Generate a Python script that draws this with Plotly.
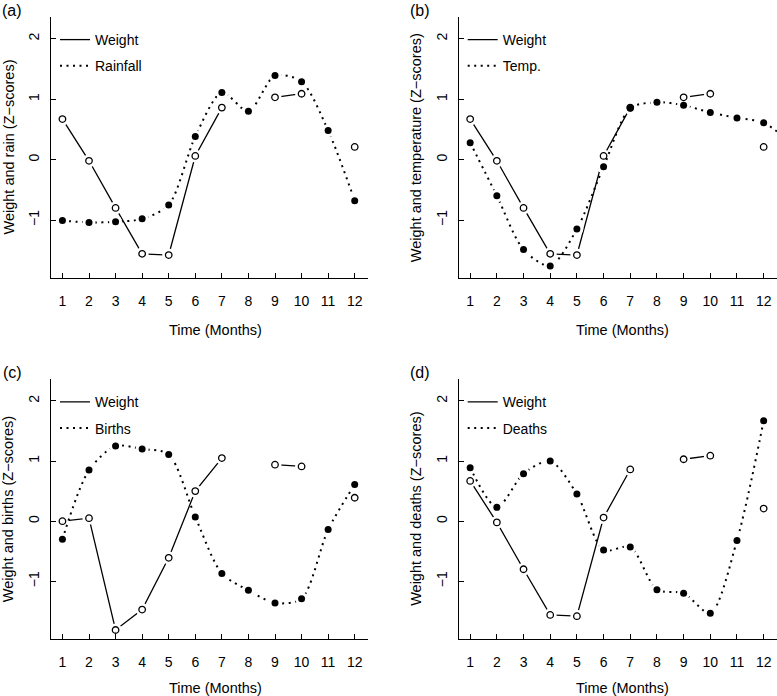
import plotly.graph_objects as go

W, H = 777, 696

# ---------------- data ----------------
months = [1, 2, 3, 4, 5, 6, 7, 8, 9, 10, 11, 12]
months_ext = [1, 2, 3, 4, 5, 6, 7, 8, 9, 10, 11, 12, 13]
x_ticks = [1, 2, 3, 4, 5, 6, 7, 8, 9, 10, 11, 12]
y_ticks = [-1, 0, 1, 2]

weight_abd = [0.67, -0.02, -0.80, -1.56, -1.58, 0.06, 0.86, None, 1.03, 1.09, None, 0.21]
weight_c = [0.00, 0.05, -1.81, -1.47, -0.61, 0.50, 1.05, None, 0.94, 0.91, None, 0.39]
rainfall = [-1.01, -1.04, -1.03, -0.98, -0.75, 0.38, 1.11, 0.80, 1.39, 1.29, 0.48, -0.68]
temperature = [0.28, -0.60, -1.49, -1.76, -1.15, -0.12, 0.85, 0.95, 0.90, 0.78, 0.69, 0.61, 0.28]
births = [-0.30, 0.85, 1.25, 1.20, 1.11, 0.07, -0.87, -1.15, -1.36, -1.29, -0.14, 0.61]
deaths = [0.89, 0.23, 0.79, 1.00, 0.45, -0.48, -0.43, -1.14, -1.20, -1.53, -0.32, 1.67]

panels = [
    dict(tag="(a)", ylab="Weight and rain (Z\u2212scores)", wx=months, w=weight_abd,
         ox=months, o=rainfall, oname="Rainfall"),
    dict(tag="(b)", ylab="Weight and temperature (Z\u2212scores)", wx=months, w=weight_abd,
         ox=months_ext, o=temperature, oname="Temp."),
    dict(tag="(c)", ylab="Weight and births (Z\u2212scores)", wx=months, w=weight_c,
         ox=months, o=births, oname="Births"),
    dict(tag="(d)", ylab="Weight and deaths (Z\u2212scores)", wx=months, w=weight_abd,
         ox=months, o=deaths, oname="Deaths"),
]

# ---------------- layout geometry (pixels) ----------------
col_x = [(51, 368), (458.7, 777)]
row_y = [(17, 278), (379.3, 639)]
xtitle_off = [52, 48.5]
FONT = "Liberation Sans, Arial, Helvetica, sans-serif"


def px(x):
    return x / W


def py(y):
    return 1 - y / H


fig = go.Figure()
annotations = []
layout = {}

for i, p in enumerate(panels):
    r, c = divmod(i, 2)
    n = "" if i == 0 else str(i + 1)
    xa, ya = "x" + n, "y" + n
    lg = "legend" + n
    x0, x1 = col_x[c]
    y0, y1 = row_y[r]

    # weight line
    fig.add_trace(go.Scatter(x=p["wx"], y=p["w"], xaxis=xa, yaxis=ya, mode="lines",
                             line=dict(color="black", width=1.3), name="Weight",
                             legend=lg, legendgroup="w" + n, connectgaps=False))
    # gaps around weight points (type="b" look)
    fig.add_trace(go.Scatter(x=p["wx"], y=p["w"], xaxis=xa, yaxis=ya, mode="markers",
                             marker=dict(color="white", size=13, line=dict(width=0)),
                             showlegend=False, hoverinfo="skip"))
    # other series line
    fig.add_trace(go.Scatter(x=p["ox"], y=p["o"], xaxis=xa, yaxis=ya, mode="lines",
                             line=dict(color="black", width=2, dash="2px,4.5px",
                                       shape="spline", smoothing=0.8),
                             name=p["oname"], legend=lg, legendgroup="o" + n))
    fig.add_trace(go.Scatter(x=p["ox"], y=p["o"], xaxis=xa, yaxis=ya, mode="markers",
                             marker=dict(color="white", size=13, line=dict(width=0)),
                             showlegend=False, hoverinfo="skip"))
    # markers
    fig.add_trace(go.Scatter(x=p["wx"], y=p["w"], xaxis=xa, yaxis=ya, mode="markers",
                             marker=dict(color="white", size=6.5,
                                         line=dict(color="black", width=1.3)),
                             showlegend=False, name="Weight"))
    fig.add_trace(go.Scatter(x=p["ox"], y=p["o"], xaxis=xa, yaxis=ya, mode="markers",
                             marker=dict(color="black", size=7, line=dict(width=0)),
                             showlegend=False, name=p["oname"]))

    axis_common = dict(showgrid=False, zeroline=False, showline=True, linecolor="black",
                       linewidth=1, ticks="inside", ticklen=5, tickwidth=1,
                       tickcolor="black", tickfont=dict(family=FONT, size=14, color="black"),
                       fixedrange=True, automargin=False, mirror=False)
    layout["xaxis" + n] = dict(axis_common, domain=[px(x0), px(x1)], range=[0.57, 12.5],
                               tickmode="array", tickvals=x_ticks, anchor=ya,
                               ticklabelstandoff=10)
    layout["yaxis" + n] = dict(axis_common, domain=[py(y1), py(y0)], range=[-1.96, 2.36],
                               tickmode="array", tickvals=y_ticks, anchor=xa,
                               tickangle=-90, ticklabelstandoff=5)

    layout[lg] = dict(x=px(x0 + 4), y=py(y0 + 7), xanchor="left", yanchor="top",
                      bgcolor="rgba(0,0,0,0)", font=dict(family=FONT, size=14, color="black"),
                      tracegroupgap=5, itemwidth=30)

    # panel tag
    annotations.append(dict(text=p["tag"], x=px(x0 - 39), y=py(y0 - 7), xref="paper",
                            yref="paper", showarrow=False, xanchor="center", yanchor="middle",
                            font=dict(family=FONT, size=16, color="black")))
    # y title
    annotations.append(dict(text=p["ylab"], x=px(x0 - 43), y=py((y0 + y1) / 2),
                            xref="paper", yref="paper", showarrow=False, textangle=-90,
                            xanchor="center", yanchor="middle",
                            font=dict(family=FONT, size=14.5, color="black")))
    # x title
    annotations.append(dict(text="Time (Months)", x=px(x0 + 164), y=py(y1 + xtitle_off[r]),
                            xref="paper", yref="paper", showarrow=False,
                            xanchor="center", yanchor="middle",
                            font=dict(family=FONT, size=14.5, color="black")))

fig.update_layout(**layout)
fig.update_layout(template="none", width=W, height=H, margin=dict(l=0, r=0, t=0, b=0),
                  paper_bgcolor="white", plot_bgcolor="white",
                  annotations=annotations, font=dict(family=FONT, color="black"))

fig.write_html("out.html", config={"displayModeBar": False},
               post_script="document.body.style.margin='0';document.body.style.padding='0';")
